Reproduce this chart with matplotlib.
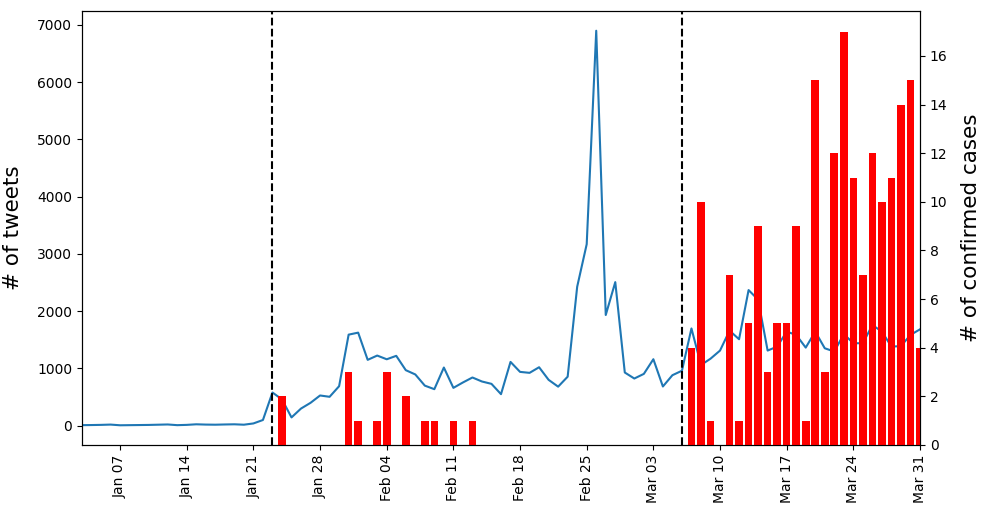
import matplotlib
matplotlib.use("Agg")
import matplotlib.pyplot as plt
import matplotlib.dates as mdates
import pandas as pd

# Daily tweet counts, 2020-01-03 .. 2020-03-31
tweet_start = "2020-01-03"
tweet_end = "2020-03-31"
tweets = [
    10, 12, 15, 20, 8, 10, 12, 14, 18, 22, 10, 15, 25, 20, 18, 22, 25, 18,  # Jan 3-20
    40, 100, 580, 460, 145, 300, 400, 528, 505, 690, 1590,                  # Jan 21-31
    1625, 1150, 1225, 1160, 1220, 970, 895, 700, 638, 1016, 661, 755, 842,  # Feb 1-13
    772, 731, 551, 1114, 940, 923, 1021, 801, 682, 856, 2426, 3169, 6895,   # Feb 14-26
    1933, 2507, 929,                                                        # Feb 27-29
    824, 905, 1161, 685, 882, 960, 1698, 1060, 1170, 1312, 1660, 1510,      # Mar 1-12
    2368, 2200, 1312, 1381, 1643, 1585, 1364, 1643, 1352, 1295, 1600,       # Mar 13-23
    1440, 1440, 1758, 1643, 1381, 1390, 1585, 1683,                         # Mar 24-31
]

# Confirmed cases (days with non-zero counts)
case_dates = [
    "2020-01-24", "2020-01-31", "2020-02-01", "2020-02-03", "2020-02-04",
    "2020-02-06", "2020-02-08", "2020-02-09", "2020-02-11", "2020-02-13",
    "2020-03-07", "2020-03-08", "2020-03-09", "2020-03-11", "2020-03-12",
    "2020-03-13", "2020-03-14", "2020-03-15", "2020-03-16", "2020-03-17",
    "2020-03-18", "2020-03-19", "2020-03-20", "2020-03-21", "2020-03-22",
    "2020-03-23", "2020-03-24", "2020-03-25", "2020-03-26", "2020-03-27",
    "2020-03-28", "2020-03-29", "2020-03-30", "2020-03-31",
]
case_counts = [
    2, 3, 1, 1, 3,
    2, 1, 1, 1, 1,
    4, 10, 1, 7, 1,
    5, 9, 3, 5, 5,
    9, 1, 15, 3, 12,
    17, 11, 7, 12, 10,
    11, 14, 15, 4,
]

event_dates = ["2020-01-23", "2020-03-06"]

tweet_days = pd.date_range(tweet_start, tweet_end, freq="D")
case_days = pd.to_datetime(case_dates)

fig = plt.figure(figsize=(9.87, 5.12), dpi=100)
ax = fig.add_axes([82 / 987, 1 - 445 / 512, (920 - 82) / 987, (445 - 11) / 512])

ax.plot(tweet_days, tweets, color="#1f77b4", linewidth=1.5)
for d in event_dates:
    ax.axvline(pd.Timestamp(d), color="black", linestyle="--", linewidth=1.5)
ax.set_ylabel("# of tweets", fontsize=15.5, labelpad=10)
ax.set_xlim(tweet_days[0], tweet_days[-1])

ax2 = ax.twinx()
ax2.bar(case_days, case_counts, width=0.8, color="red")
ax2.set_ylabel("# of confirmed cases", fontsize=15.5, labelpad=10)
ax2.set_xlim(tweet_days[0], tweet_days[-1])

ax.xaxis.set_major_locator(mdates.WeekdayLocator(byweekday=mdates.TU))
ax.xaxis.set_major_formatter(mdates.DateFormatter("%b %d"))
for a in (ax, ax2):
    a.tick_params(labelsize=10)
for lbl in ax.get_xticklabels():
    lbl.set_rotation(90)

fig.savefig("out.png", dpi=100)
